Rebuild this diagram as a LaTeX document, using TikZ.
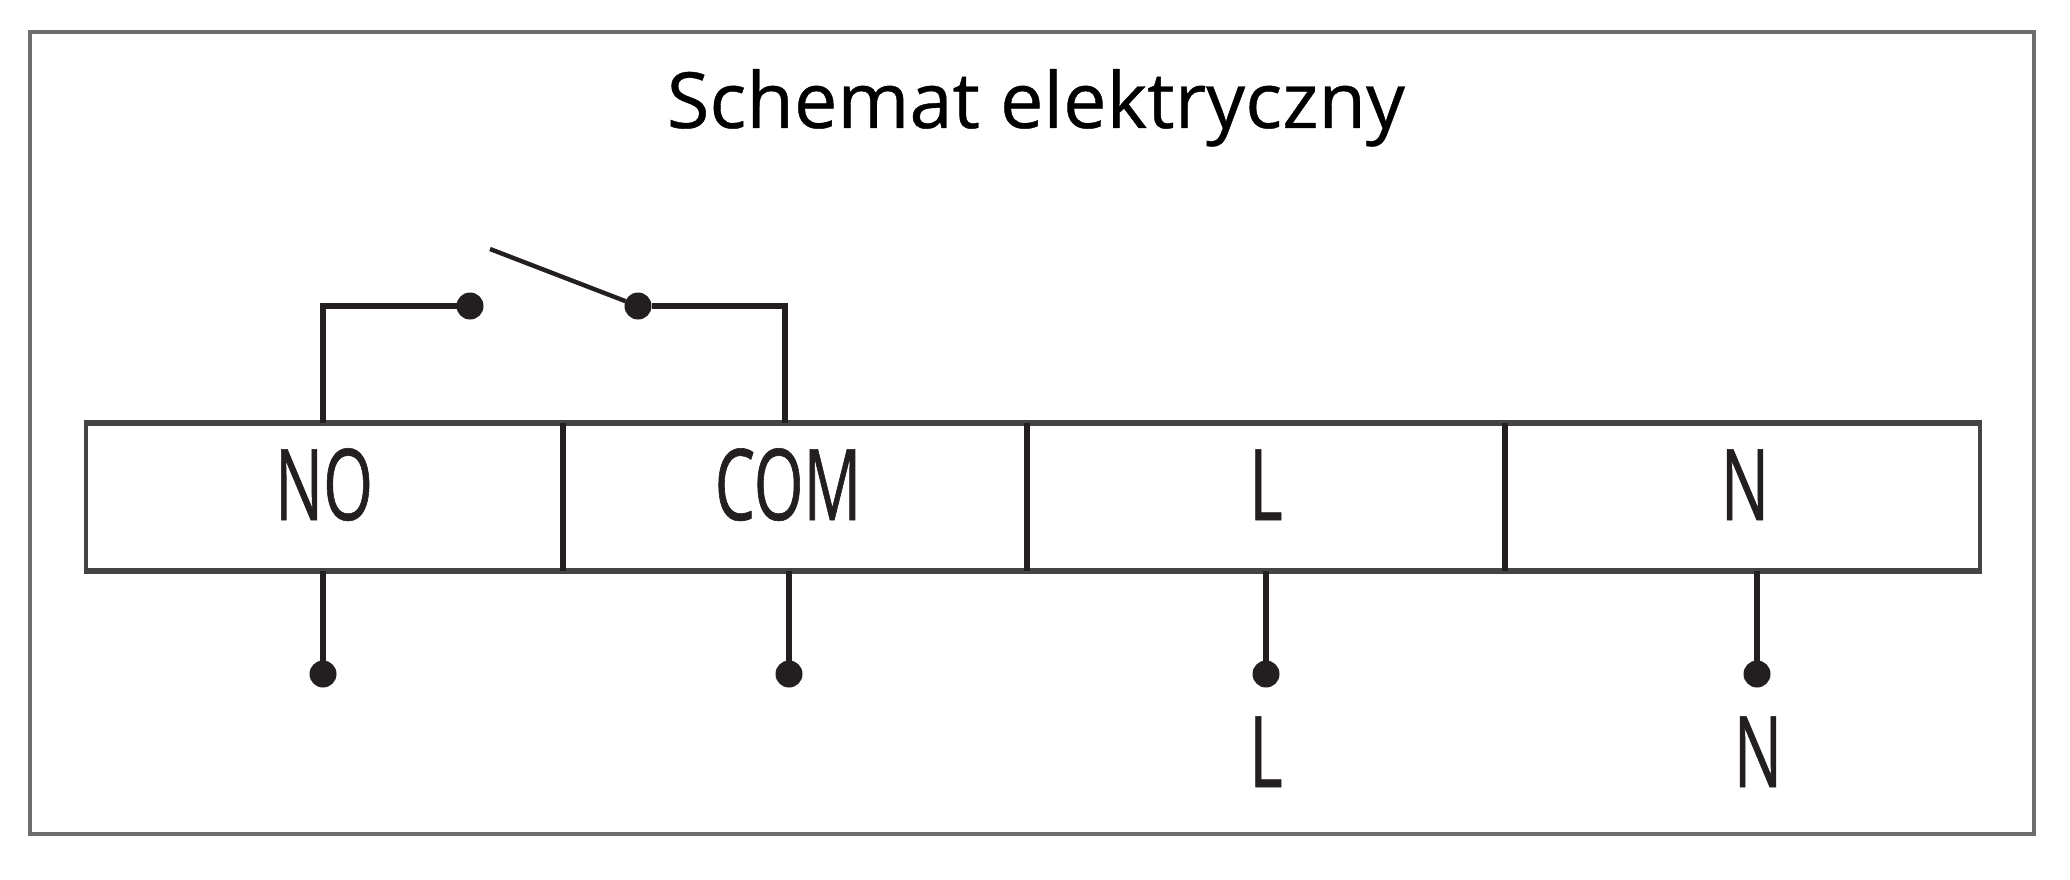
\documentclass[tikz,border=0pt]{standalone}
\usepackage{fontspec}
\setmainfont[FakeBold=0.4]{Open Sans}
\newfontfamily\headfont[FakeBold=0.5]{Open Sans}
\newfontfamily\condfont[FakeStretch=0.645,FakeBold=0.6]{Open Sans}
\definecolor{ink}{HTML}{231F20}
\definecolor{framegray}{HTML}{6E6E6E}
\definecolor{railgray}{HTML}{444444}
\tikzset{
  outerframe/.style={draw=framegray,line width=3.6pt,fill=white},
  cell/.style={draw=railgray,line width=4.2pt,inner sep=0pt,outer sep=0pt,minimum height=148pt},
  rail/.style={draw=railgray,line width=6pt},
  divider/.style={draw=ink,line width=6.5pt},
  wirev/.style={draw=ink,line width=5.2pt},
  wireh/.style={draw=ink,line width=6.5pt},
  blade/.style={draw=ink,line width=4.4pt},
  terminal/.style={circle,fill=ink,inner sep=0pt,outer sep=0pt,minimum size=27pt},
  label/.style={font=\condfont\fontsize{99pt}{99pt}\selectfont,text=ink,anchor=base,inner sep=0pt},
  heading/.style={font=\headfont\fontsize{77.5pt}{77.5pt}\selectfont,text=black,anchor=base,inner sep=0pt}
}
\begin{document}
\begin{tikzpicture}[x=1pt,y=-1pt]
\useasboundingbox (0,0) rectangle (2070,880);
\fill[white] (0,0) rectangle (2070,880);
\node[outerframe,minimum width=2004pt,minimum height=802pt,inner sep=0pt,outer sep=0pt] (frame) at (1032,433) {};
\node[heading] (title) at (1036,128) {Schemat elektryczny};
% terminal strip
\node[cell,minimum width=477pt] (no) at (324.5,497) {};
\node[cell,minimum width=464pt] (com) at (795,497) {};
\node[cell,minimum width=478pt] (l) at (1266,497) {};
\node[cell,minimum width=475pt] (n) at (1742.5,497) {};
\draw[rail] ([xshift=-2.1pt]no.north west) -- ([xshift=2.1pt]n.north east);
\draw[rail] ([xshift=-2.1pt]no.south west) -- ([xshift=2.1pt]n.south east);
\draw[divider] (no.north east) -- (no.south east);
\draw[divider] (com.north east) -- (com.south east);
\draw[divider] (l.north east) -- (l.south east);
\node[label] (lno) at (324,520) {NO};
\node[label] (lcom) at (788,520) {COM};
\node[label] (ll) at (1266,520) {L};
\node[label] (ln) at (1745,520) {N};
% switch
\node[terminal] (sw1) at (470,306) {};
\node[terminal] (sw2) at (638,306) {};
\coordinate (bladeend) at (490,249);
\coordinate (bend1) at (323,306);
\coordinate (bend2) at (785,306);
\coordinate (in1) at (323,423);
\coordinate (in2) at (785,423);
\draw[wirev] (in1) -- ([yshift=-3.25pt]bend1);
\draw[wireh] ([xshift=-2.6pt]bend1) -- (sw1);
\draw[wirev] (in2) -- ([yshift=-3.25pt]bend2);
\draw[wireh] ([xshift=2.6pt]bend2) -- (sw2);
\draw[blade] (bladeend) -- (sw2);
% lower terminals
\node[terminal] (t1) at (323,674) {};
\node[terminal] (t2) at (789,674) {};
\node[terminal] (t3) at (1266,674) {};
\node[terminal] (t4) at (1757,674) {};
\draw[wirev] (t1) -- (t1 |- no.south);
\draw[wirev] (t2) -- (t2 |- com.south);
\draw[wirev] (t3) -- (t3 |- l.south);
\draw[wirev] (t4) -- (t4 |- n.south);
\node[label] (bl) at (1266,787) {L};
\node[label] (bn) at (1758,787) {N};
\end{tikzpicture}
\end{document}
